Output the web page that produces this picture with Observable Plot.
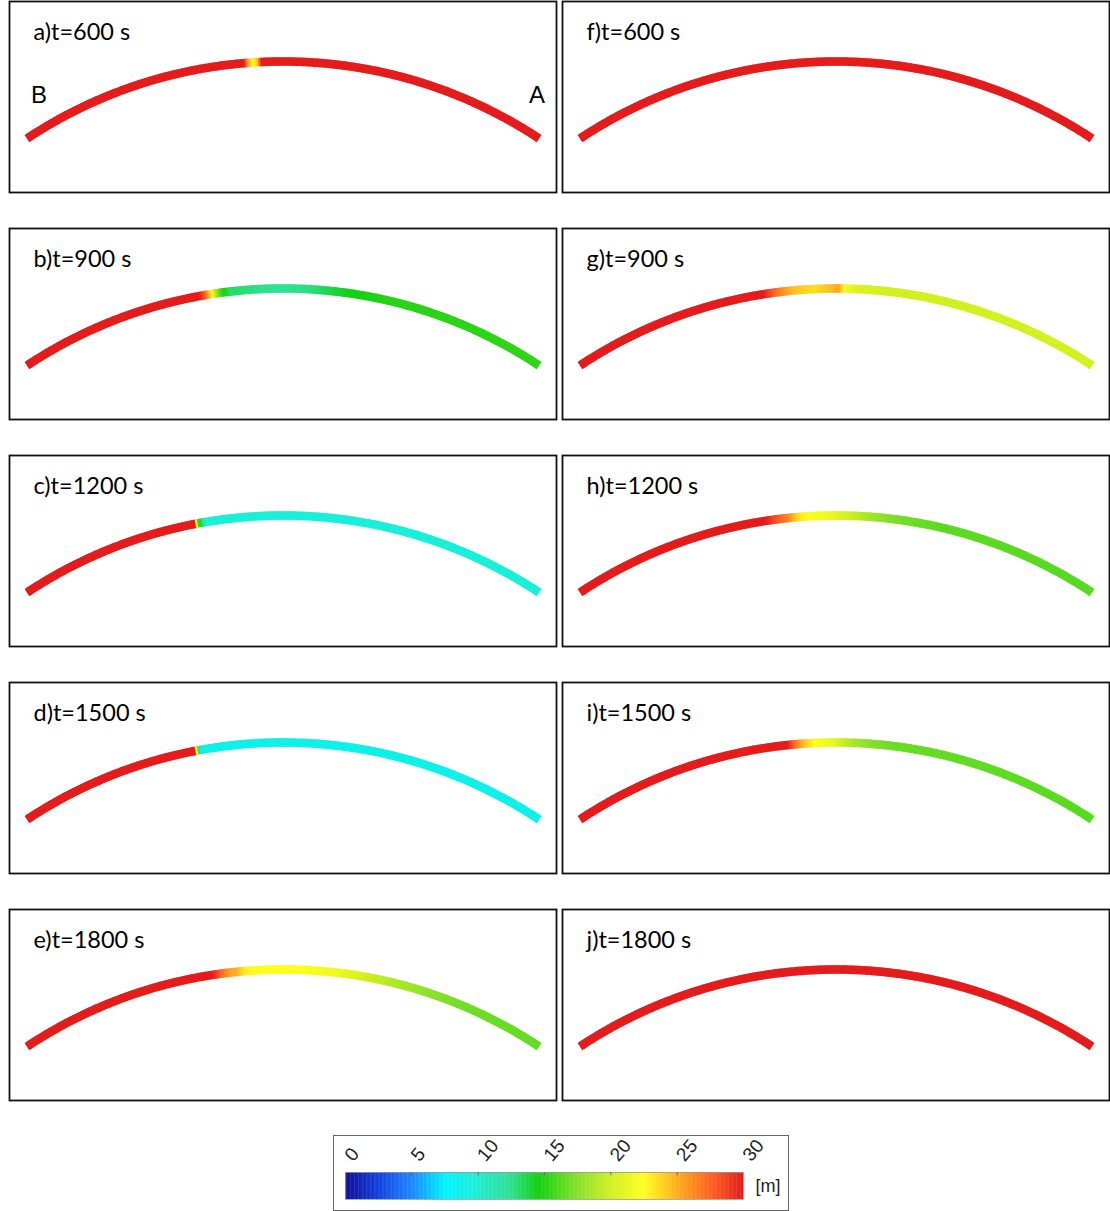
<!DOCTYPE html>
<html>
<head>
<meta charset="utf-8">
<script src="https://cdn.jsdelivr.net/npm/d3@7"></script>
<script src="https://cdn.jsdelivr.net/npm/@observablehq/plot@0.6"></script>
<style>
  body { margin: 0; background: #fff; }
  #chart { width: 1110px; }
  #chart svg { display: block; background: #fff; }
</style>
</head>
<body>
<div id="chart"></div>
<script>
// ---------- data ----------
const panelLetters = ["a", "b", "c", "d", "e", "f", "g", "h", "i", "j"];
const panelTimes   = [600, 900, 1200, 1500, 1800, 600, 900, 1200, 1500, 1800];
const panelColumns = [0, 0, 0, 0, 0, 1, 1, 1, 1, 1];
const panelRows    = [0, 1, 2, 3, 4, 0, 1, 2, 3, 4];

// depth stops along the bend: [fraction of arc from B (0) to A (1), depth in m]
const depthA = [[0, 30], [0.428, 30], [0.436, 25], [0.443, 22.5], [0.452, 24], [0.46, 30], [1, 30]];
const depthB = [[0, 30], [0.345, 30], [0.358, 27], [0.37, 21], [0.383, 16], [0.40, 13.2], [0.45, 12.6], [0.5, 12.2], [0.55, 12.8], [0.62, 14.4], [0.7, 15.1], [1, 15.3]];
const depthC = [[0, 30], [0.336, 30], [0.342, 16], [0.35, 13], [0.358, 9.6], [1, 9.6]];
const depthD = [[0, 30], [0.336, 30], [0.344, 12], [0.352, 8.7], [1, 8.7]];
const depthE = [[0, 30], [0.37, 30], [0.385, 27.5], [0.40, 25.5], [0.415, 25], [0.43, 23], [0.45, 22.5], [0.53, 22.3], [0.59, 21.7], [0.63, 20.8], [0.66, 19.8], [0.72, 18.6], [0.78, 17.6], [0.85, 16.9], [1, 16.6]];
const depthF = [[0, 30], [1, 30]];
const depthG = [[0, 30], [0.365, 30], [0.39, 27], [0.42, 24.5], [0.46, 23.5], [0.49, 24.5], [0.505, 25.5], [0.515, 22], [0.54, 20.5], [0.6, 20], [1, 20.2]];
const depthH = [[0, 30], [0.37, 30], [0.39, 28], [0.41, 26.5], [0.43, 23.5], [0.46, 22], [0.49, 21.5], [0.51, 20.5], [0.54, 19.3], [0.58, 17.8], [0.62, 17], [0.7, 16.4], [1, 16.3]];
const depthI = [[0, 30], [0.41, 30], [0.425, 27], [0.44, 24.5], [0.46, 22.5], [0.49, 21.5], [0.51, 20], [0.535, 18.5], [0.57, 17.3], [0.62, 16.7], [1, 16.3]];
const depthJ = [[0, 30], [1, 30]];
const panelDepths = [depthA, depthB, depthC, depthD, depthE, depthF, depthG, depthH, depthI, depthJ];

const endLabels = ["B", "A"];

// colour bar
const colorTicks = [0, 5, 10, 15, 20, 25, 30];
const colorStops = [0, 2.5, 5, 7.5, 10, 12.5, 14.5, 17.5, 20, 22.5, 25, 27.5, 30];
const colorRamp  = ["#10109a", "#1240e0", "#1f86ff", "#00f4ff", "#1eeed2", "#2ee090", "#12d012",
                    "#86e02c", "#d0f020", "#ffff1e", "#ffb020", "#ff6420", "#e41c1c"];
const colorUnit = "[m]";

// ---------- geometry of the bend (panel units = px) ----------
const arcRadius = 464;
const arcHalfAngle = 0.5847;
const arcCenterY = -333;
function arcPoint(s) {
  const phi = -arcHalfAngle + 2 * arcHalfAngle * s;
  return [arcRadius * Math.sin(phi), arcCenterY + arcRadius * Math.cos(phi)];
}

const panels = panelLetters.map((l, i) => ({
  label: `${l})t=${panelTimes[i]} s`,
  col: panelColumns[i],
  row: panelRows[i],
  depth: panelDepths[i]
}));

const N = 240;
const segments = [];
for (const p of panels) {
  const f = d3.scaleLinear().domain(p.depth.map(d => d[0])).range(p.depth.map(d => d[1])).clamp(true);
  for (let k = 0; k < N; k++) {
    const [x1, y1] = arcPoint(k / N);
    const [x2, y2] = arcPoint(Math.min(1, (k + 1.6) / N));
    segments.push({col: p.col, row: p.row, x1, y1, x2, y2, depth: f((k + 0.5) / N)});
  }
}

const ends = endLabels.map((t, i) => {
  const [x, y] = arcPoint(i === 0 ? 0 : 1);
  return {text: t, x, y, col: 0, row: 0};
});

const colorOpts = {type: "linear", domain: colorStops, range: colorRamp};

const main = Plot.plot({
  width: 1110,
  height: 1105,
  marginTop: 1, marginBottom: 5, marginLeft: 9, marginRight: 1,
  fx: {domain: [0, 1], axis: null, paddingInner: 0.011, paddingOuter: 0},
  fy: {domain: [0, 1, 2, 3, 4], axis: null, paddingInner: 0.159, paddingOuter: 0},
  x: {domain: [-273.5, 273.5], axis: null},
  y: {domain: [0, 191], axis: null},
  color: colorOpts,
  marks: [
    Plot.frame({stroke: "#111", strokeWidth: 1.8}),
    Plot.link(segments, {fx: "col", fy: "row", x1: "x1", y1: "y1", x2: "x2", y2: "y2",
      stroke: "depth", strokeWidth: 8.5, strokeLinecap: "butt"}),
    Plot.text(panels, {fx: "col", fy: "row", text: "label", frameAnchor: "top-left",
      textAnchor: "start", lineAnchor: "middle", dx: 24, dy: 31,
      fontSize: 23.5, fontFamily: "Lato", fill: "#000"}),
    Plot.text(ends.slice(0, 1), {fx: "col", fy: "row", x: "x", y: "y", text: "text",
      dx: 12, dy: -43, fontSize: 24, fontFamily: "Liberation Sans", fill: "#000"}),
    Plot.text(ends.slice(1), {fx: "col", fy: "row", x: "x", y: "y", text: "text",
      dx: -2, dy: -43, fontSize: 24, fontFamily: "Liberation Sans", fill: "#000"})
  ]
});

const rampCells = d3.range(0, 300).map(i => ({x1: i / 10, x2: (i + 1.3) / 10, v: (i + 0.5) / 10}));

const bar = Plot.plot({
  width: 1110,
  height: 106,
  marginTop: 67, marginBottom: 12, marginLeft: 345, marginRight: 367,
  x: {domain: [0, 30], axis: null},
  y: {domain: [0, 1], axis: null},
  color: colorOpts,
  marks: [
    Plot.frame({insetLeft: -12, insetRight: -45, insetTop: -37, insetBottom: -11, stroke: "#666", strokeWidth: 1}),
    Plot.rect(rampCells, {x1: d => d.x1, x2: d => Math.min(30, d.x2), y1: 0, y2: 1, fill: "v"}),
    Plot.frame({stroke: "#999", strokeWidth: 0.8}),
    Plot.ruleX(colorTicks.slice(1, -1), {x: d => d, y1: 1, y2: 0.88, stroke: "#666", strokeWidth: 1}),
    Plot.text(colorTicks, {x: d => d, y: 1, text: d => String(d), rotate: -50, textAnchor: "start",
      lineAnchor: "middle", dx: 3, dy: -14, fontSize: 19, fontFamily: "Liberation Sans", fill: "#222"}),
    Plot.text([colorUnit], {text: d => d, frameAnchor: "right", textAnchor: "start", dx: 12,
      fontSize: 18, fontFamily: "Liberation Sans", fill: "#222"})
  ]
});

const chart = document.getElementById("chart");
chart.appendChild(main);
chart.appendChild(bar);
</script>
</body>
</html>
